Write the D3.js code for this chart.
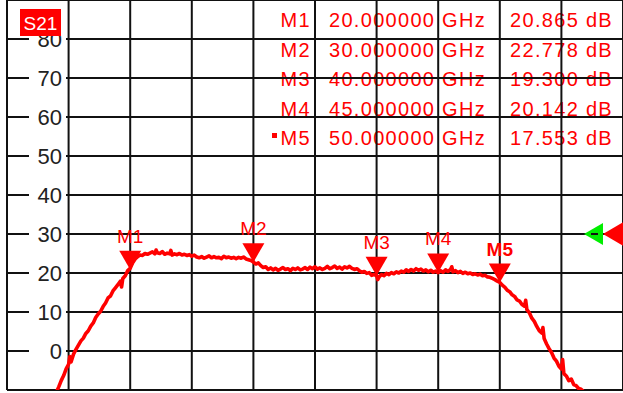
<!doctype html>
<html>
<head>
    <meta http-equiv="Content-type" content="text/html; charset=utf-8"/>
    <script src="https://d3js.org/d3.v7.min.js"></script>
    <style>
        body { margin: 0; background: #fff; }
        svg { display: block; }
        text { font-family: "Liberation Sans", Arial, sans-serif; }
    </style>
</head>
<body>
    <svg width="623" height="393"></svg>

    <script>
        // frequency range (GHz) and level range (dB)
        var freqRange = [10, 60];
        var dbRange = [-10, 90];
        var freqTicks = [10, 15, 20, 25, 30, 35, 40, 45, 50, 55, 60];
        var dbTicks = [-10, 0, 10, 20, 30, 40, 50, 60, 70, 80, 90];
        var dbLabels = [0, 10, 20, 30, 40, 50, 60, 70, 80];
        var refLevel = 30;

        // markers
        var markerNames = ["M1", "M2", "M3", "M4", "M5"];
        var markerFreqs = [20, 30, 40, 45, 50];
        var markerValues = [20.865, 22.778, 19.300, 20.142, 17.553];
        var activeMarker = "M5";

        // S21 trace, [GHz, dB]
        var trace = [
            [14.0,-10.6],[14.2,-9.2],[14.4,-7.6],[14.6,-6.3],[14.8,-4.6],[15.0,-3.4],[15.1,-1.4],[15.2,-2.8],
            [15.4,-0.8],[15.6,0.4],[15.8,1.5],[16.0,2.6],[16.2,3.3],[16.4,4.5],[16.6,5.2],[16.8,6.4],
            [17.0,7.2],[17.2,8.6],[17.4,9.5],[17.6,10.2],[17.8,11.4],[18.0,12.3],[18.2,13.6],[18.4,14.1],
            [18.6,15.4],[18.8,16.2],[19.0,17.0],[19.2,17.9],[19.3,16.4],[19.4,18.6],[19.6,19.3],[19.8,20.6],
            [20.0,21.2],[20.2,22.6],[20.4,23.6],[20.6,24.2],[20.8,24.6],[21.0,24.5],[21.2,25.0],[21.4,24.8],
            [21.6,25.1],[21.8,25.4],[22.0,24.9],[22.1,25.9],[22.2,25.2],[22.4,25.0],[22.6,25.5],[22.8,24.8],[23.0,25.1],
            [23.2,24.9],[23.3,25.8],[23.4,24.6],[23.6,24.9],[23.8,24.7],[24.0,25.0],[24.2,24.6],[24.4,24.8],[24.6,24.5],
            [24.8,24.7],[25.0,24.3],[25.2,24.6],[25.4,24.1],[25.6,23.9],[25.8,24.2],[26.0,23.8],[26.2,24.1],
            [26.4,24.4],[26.6,23.9],[26.8,24.2],[27.0,23.9],[27.2,24.0],[27.4,23.7],[27.6,24.3],[27.8,23.9],
            [28.0,24.1],[28.2,23.8],[28.4,24.0],[28.6,23.7],[28.8,24.0],[29.0,23.8],[29.2,24.1],[29.4,23.6],
            [29.6,23.4],[29.8,23.2],[30.0,22.8],[30.2,22.3],[30.4,22.6],[30.6,21.9],[30.8,21.4],[31.0,21.6],
            [31.2,20.9],[31.4,21.3],[31.6,20.8],[31.8,21.2],[32.0,20.7],[32.2,21.0],[32.4,21.4],[32.6,20.9],
            [32.8,21.1],[33.0,20.6],[33.2,21.2],[33.4,20.9],[33.6,21.3],[33.8,20.8],[34.0,21.0],[34.2,21.4],
            [34.4,20.9],[34.6,21.5],[34.8,21.1],[35.0,21.6],[35.2,21.0],[35.4,21.3],[35.6,20.9],[35.8,21.2],
            [36.0,21.7],[36.2,21.1],[36.4,21.4],[36.6,21.8],[36.8,21.2],[37.0,21.5],[37.2,21.0],[37.4,21.6],
            [37.6,21.3],[37.8,21.7],[38.0,21.2],[38.2,20.9],[38.4,21.1],[38.6,20.6],[38.8,20.2],[39.0,20.4],
            [39.2,19.9],[39.4,20.1],[39.6,19.4],[39.8,19.6],[40.0,19.3],[40.1,18.3],[40.2,19.0],[40.4,19.6],[40.6,19.3],
            [40.8,19.9],[41.0,19.6],[41.2,20.1],[41.4,19.8],[41.6,20.3],[41.8,20.0],[42.0,20.5],[42.2,20.2],
            [42.4,20.8],[42.6,20.4],[42.8,20.9],[43.0,20.5],[43.2,21.1],[43.4,20.7],[43.6,21.0],[43.8,20.5],
            [44.0,20.8],[44.2,20.3],[44.4,20.7],[44.6,20.2],[44.8,20.5],[45.0,20.1],[45.2,20.6],[45.4,20.2],
            [45.6,20.8],[45.8,20.4],[46.0,20.9],[46.1,21.6],[46.2,20.3],[46.4,20.6],[46.6,20.1],[46.8,20.4],[47.0,19.9],
            [47.2,20.2],[47.4,19.8],[47.6,20.0],[47.8,19.6],[48.0,19.8],[48.2,19.5],[48.4,19.7],[48.6,19.3],
            [48.8,19.4],[49.0,19.0],[49.2,18.9],[49.4,18.6],[49.6,18.3],[49.8,17.9],[50.0,17.6],[50.2,16.9],
            [50.4,16.4],[50.6,15.6],[50.8,15.2],[51.0,14.4],[51.2,14.0],[51.4,13.1],[51.6,12.8],[51.8,11.9],
            [52.0,11.5],[52.1,13.0],[52.2,10.6],[52.4,9.8],[52.6,8.4],[52.8,7.6],[53.0,6.3],[53.2,5.2],
            [53.4,4.6],[53.5,6.0],[53.6,3.2],[53.8,1.8],[54.0,0.6],[54.2,-0.4],[54.4,-1.8],[54.6,-2.6],
            [54.8,-3.9],[55.0,-4.6],[55.1,-2.2],[55.2,-5.8],[55.4,-6.4],[55.6,-7.6],[55.8,-7.2],[56.0,-8.6],
            [56.2,-8.9],[56.4,-9.6],[56.6,-9.8],[56.8,-10.4],[57.0,-11.0]
        ];

        var red = "#ff0000";
        var svg = d3.select("svg");

        var x = d3.scaleLinear().domain(freqRange).range([7, 623]);
        var y = d3.scaleLinear().domain(dbRange).range([390, 0]);

        svg.append("defs").append("clipPath").attr("id", "plot")
            .append("rect").attr("x", 7).attr("y", 0).attr("width", 616).attr("height", 390);

        // marker readout table (under the grid)
        var table = svg.append("g").attr("fill", red).style("font-size", "20px").style("letter-spacing", "1.3px");
        markerNames.forEach(function(name, i) {
            var by = 27 + i * 29.5;
            table.append("text").attr("x", 311).attr("y", by).attr("text-anchor", "end").text(name);
            table.append("text").attr("x", 329).attr("y", by).text(markerFreqs[i].toFixed(6) + " GHz");
            table.append("text").attr("x", 613).attr("y", by).attr("text-anchor", "end")
                .text(markerValues[i].toFixed(3) + " dB");
            if (name === activeMarker) {
                table.append("rect").attr("x", 272).attr("y", by - 12).attr("width", 5).attr("height", 5);
            }
        });

        // grid
        var grid = svg.append("g").attr("stroke", "#111").attr("stroke-width", 2);
        grid.selectAll("line.v").data(freqTicks).enter().append("line")
            .attr("class", "v")
            .attr("x1", function(d) { return x(d); }).attr("x2", function(d) { return x(d); })
            .attr("y1", y(dbRange[1])).attr("y2", y(dbRange[0]));
        grid.selectAll("line.h").data(dbTicks).enter().append("line")
            .attr("class", "h")
            .attr("x1", x(freqRange[0])).attr("x2", x(freqRange[1]))
            .attr("y1", function(d) { return y(d); }).attr("y2", function(d) { return y(d); });

        // level labels with white background
        var lab = svg.append("g");
        lab.selectAll("rect").data(dbLabels).enter().append("rect")
            .attr("x", 29).attr("y", function(d) { return y(d) - 11; })
            .attr("width", 37).attr("height", 22).attr("fill", "#fff");
        lab.selectAll("text").data(dbLabels).enter().append("text")
            .attr("x", 62).attr("y", function(d) { return y(d) + 8; })
            .attr("text-anchor", "end").attr("fill", "#222")
            .style("font-size", "22px")
            .text(function(d) { return d; });

        // S21 trace
        var line = d3.line().x(function(d) { return x(d[0]); }).y(function(d) { return y(d[1]); });
        svg.append("path").datum(trace)
            .attr("clip-path", "url(#plot)")
            .attr("d", line)
            .attr("fill", "none").attr("stroke", red).attr("stroke-width", 3.6)
            .attr("stroke-linejoin", "round");

        // marker triangles and labels
        var mk = svg.append("g");
        markerNames.forEach(function(name, i) {
            var mx = x(markerFreqs[i]), my = y(markerValues[i]);
            mk.append("path")
                .attr("d", "M" + (mx - 11) + "," + (my - 19) + "L" + (mx + 11) + "," + (my - 19) + "L" + mx + "," + my + "Z")
                .attr("fill", red);
            mk.append("text").attr("x", mx).attr("y", my - 27)
                .attr("text-anchor", "middle").attr("fill", red)
                .style("font-size", "19px")
                .style("font-weight", name === activeMarker ? "bold" : "normal")
                .text(name);
        });

        // reference level arrows
        var ry = y(refLevel);
        svg.append("path").attr("d", "M584," + ry + "L603," + (ry - 11) + "L603," + (ry + 11) + "Z").attr("fill", "#00ee00");
        svg.append("line").attr("x1", 591).attr("x2", 598).attr("y1", ry).attr("y2", ry).attr("stroke", "#111").attr("stroke-width", 2);
        svg.append("path").attr("d", "M603," + ry + "L625," + (ry - 13) + "L625," + (ry + 13) + "Z").attr("fill", red);

        // trace title
        svg.append("rect").attr("x", 20).attr("y", 9).attr("width", 41).attr("height", 27).attr("fill", red);
        svg.append("text").attr("x", 40.5).attr("y", 30).attr("text-anchor", "middle")
            .attr("fill", "#fff").style("font-size", "19px").text("S21");
    </script>
</body>
</html>
